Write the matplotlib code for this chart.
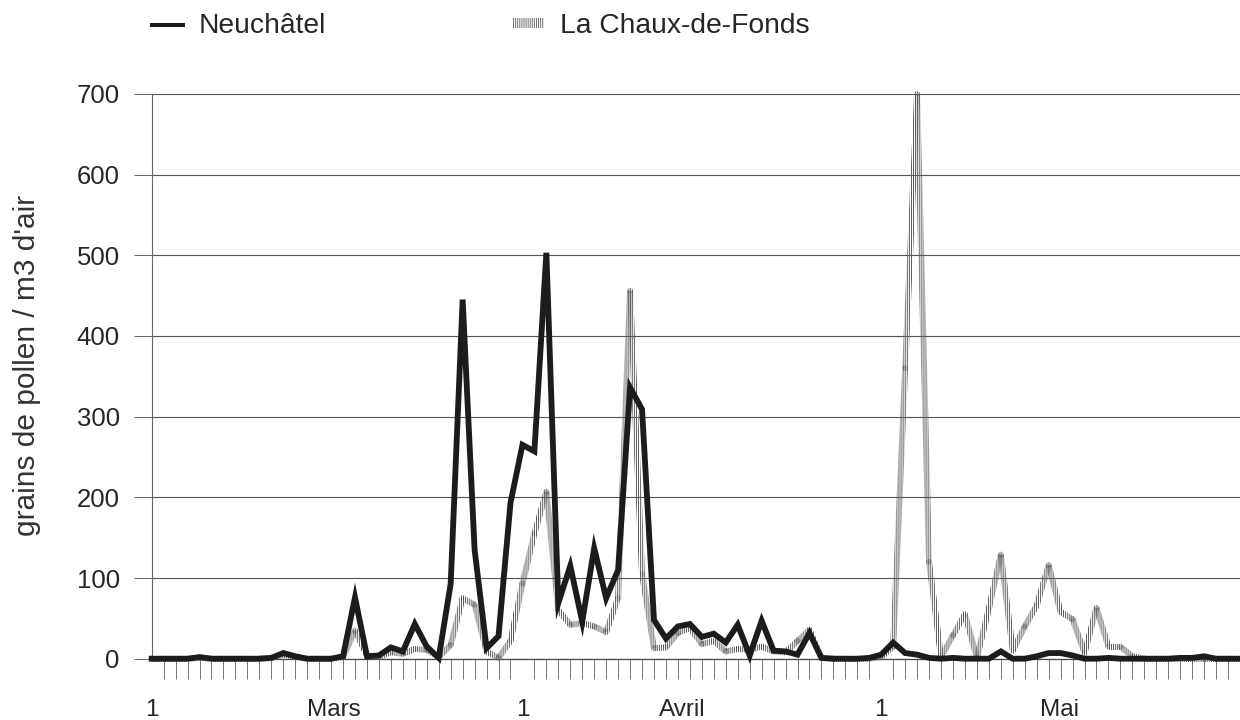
import numpy as np
import matplotlib
matplotlib.use('Agg')
import matplotlib.pyplot as plt
from matplotlib.patches import Polygon, Patch
from matplotlib.lines import Line2D

plt.rcParams['font.family'] = ['Liberation Sans', 'DejaVu Sans']
plt.rcParams['hatch.linewidth'] = 0.7

# grains de pollen / m3, one value per day, index 0 = 1 mars ... 91 = 31 mai
neuchatel = [0, 0, 0, 0, 2, 0, 0, 0, 0, 0,
             1, 7, 3, 0, 0, 0, 3, 76, 3, 4,
             14, 9, 43, 15, 1, 93, 445, 135, 13, 28,
             193, 265, 257, 503, 69, 115, 46, 137, 75, 110,
             336, 309, 48, 25, 40, 43, 27, 31, 20, 42,
             4, 47, 10, 9, 5, 32, 1, 0, 0, 0,
             1, 5, 20, 7, 5, 1, 0, 1, 0, 0,
             0, 9, 0, 0, 3, 7, 7, 4, 0, 0,
             1, 0, 0, 0, 0, 0, 1, 1, 3, 0,
             0, 0]
chaux_de_fonds = [0, 0, 0, 0, 1, 0, 0, 0, 0, 0,
                  1, 5, 2, 0, 0, 0, 2, 35, 4, 2,
                  8, 6, 12, 11, 2, 17, 75, 67, 9, 1,
                  22, 93, 155, 207, 60, 42, 44, 40, 33, 75,
                  456, 105, 13, 14, 32, 38, 18, 22, 9, 12,
                  11, 15, 9, 8, 22, 36, 1, 0, 0, 0,
                  0, 2, 15, 360, 700, 120, 2, 29, 55, 1,
                  62, 129, 10, 40, 66, 116, 58, 49, 7, 63,
                  15, 15, 3, 0, 0, 0, 0, 0, 0, 0,
                  0, 0]
days = np.arange(len(neuchatel))

month_labels = ['1', 'Mars', '1', 'Avril', '1', 'Mai']
month_label_pos = [0, 15.2, 31, 44.4, 61, 75.9]
y_ticks = [0, 100, 200, 300, 400, 500, 600, 700]

txt = '#262626'
gray = '#5a5a5a'

fig = plt.figure(figsize=(12.4, 7.2), dpi=100)
ax = fig.add_axes([151.7 / 1240, 61.3 / 720, 1 - 151.7 / 1240, 564.9 / 720])
ax.set_xlim(0, 1088.3 / 12.06)
ax.set_ylim(0, 700)

ax.set_yticks(y_ticks)
ax.yaxis.grid(True, color='#555555', lw=0.8)
ax.set_axisbelow(True)
for s in ['top', 'right']:
    ax.spines[s].set_visible(False)
ax.spines['left'].set_color('#666666')
ax.spines['left'].set_linewidth(0.8)
ax.spines['bottom'].set_color('#444444')
ax.spines['bottom'].set_linewidth(0.9)

ax.set_xticks(days, minor=True)
ax.tick_params(axis='x', which='minor', length=14.5, width=0.7, color='#777777')
ax.set_xticks(month_label_pos, month_labels)
ax.tick_params(axis='x', which='major', length=0, pad=29, labelsize=17.5, labelcolor=txt)
ax.tick_params(axis='y', length=13, width=0.7, color='#666666', pad=10,
               labelsize=18.5, labelcolor=txt)

ax.set_ylabel("grains de pollen / m3 d'air", fontsize=21.5, color='#333333')
ax.yaxis.set_label_coords(-0.102, 0.52)

# La Chaux-de-Fonds: thick line filled with vertical hatching
band = 6.0
pts = ax.transData.transform(np.column_stack([days, chaux_de_fonds]))
inv = ax.transData.inverted()
for (x0, y0), (x1, y1) in zip(pts[:-1], pts[1:]):
    n = np.hypot(x1 - x0, y1 - y0)
    nx, ny = -(y1 - y0) / n * band / 2, (x1 - x0) / n * band / 2
    quad = [[x0 + nx, y0 + ny], [x1 + nx, y1 + ny], [x1 - nx, y1 - ny], [x0 - nx, y0 - ny]]
    ax.add_patch(Polygon(inv.transform(quad), closed=True, facecolor='none',
                         edgecolor=gray, hatch='||||||||', lw=0, clip_on=False, zorder=3))
ang = np.linspace(0, 2 * np.pi, 12, endpoint=False)
for x0, y0 in pts:
    circ = np.column_stack([x0 + band / 2 * np.cos(ang), y0 + band / 2 * np.sin(ang)])
    ax.add_patch(Polygon(inv.transform(circ), closed=True, facecolor='none',
                         edgecolor=gray, hatch='||||||||', lw=0, clip_on=False, zorder=3))

ax.plot(days, neuchatel, color='#1c1c1c', lw=4.2, solid_joinstyle='miter',
        clip_on=False, zorder=4)

handles = [Line2D([], [], color='#1c1c1c', lw=2.9),
           Patch(facecolor='none', edgecolor='#707070', hatch='||||||||', lw=0)]
fig.legend(handles, ['Neuchâtel', 'La Chaux-de-Fonds'], loc='center left',
           bbox_to_anchor=(151.7 / 1240, 1 - 26 / 720), ncol=2, frameon=False,
           fontsize=20.3, labelcolor=txt, handlelength=1.1, handleheight=0.15,
           handletextpad=0.58, columnspacing=6.6, borderpad=0, borderaxespad=0)

fig.savefig('out.png', dpi=100)
